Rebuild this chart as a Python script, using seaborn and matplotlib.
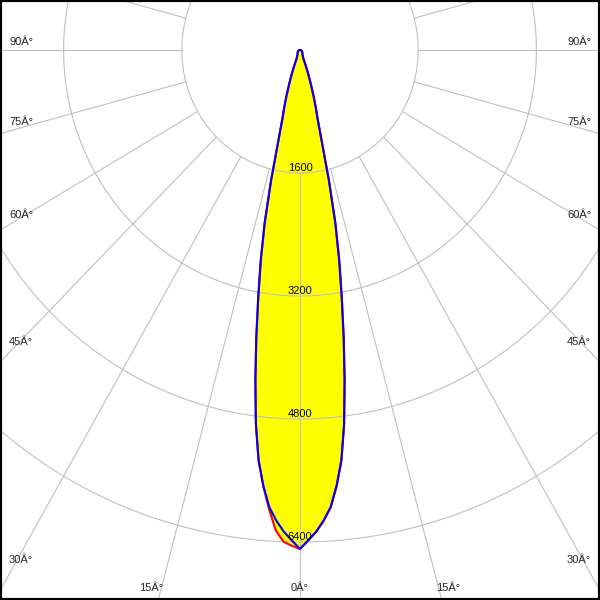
import numpy as np
import pandas as pd
import matplotlib
matplotlib.use("Agg")
import matplotlib.pyplot as plt
from matplotlib.patches import Rectangle
import seaborn as sns

# ---------------- data ----------------
angles_deg = [0, 1, 2, 3, 4, 5, 6, 7, 8, 9, 10, 11, 12, 13, 14, 15, 16, 17, 18, 19,
              20, 21, 22, 25, 30, 40, 50, 60, 70, 80, 90]
# C90-C270 plane (blue), symmetric
intensity_blue = [6490, 6380, 6270, 6130, 5960, 5690, 5365, 4900, 4340, 3780,
                  3250, 2780, 2300, 1740, 1190, 910, 770, 632, 495, 392,
                  300, 210, 130, 90, 70, 50, 40, 30, 20, 10, 0]
# C0 half plane (red, left side) and C180 half plane (red, right side)
intensity_red_left = [6490, 6450, 6400, 6260, 5990, 5700, 5365, 4900, 4340, 3780,
                      3250, 2780, 2300, 1740, 1190, 910, 770, 632, 495, 392,
                      300, 210, 130, 90, 70, 50, 40, 30, 20, 10, 0]
intensity_red_right = [6490, 6380, 6270, 6130, 5960, 5690, 5365, 4900, 4340, 3780,
                       3250, 2780, 2300, 1740, 1190, 910, 770, 632, 495, 392,
                       300, 210, 130, 90, 70, 50, 40, 30, 20, 10, 0]

ring_values = [1600, 3200, 4800, 6400]
ring_labels = ["1600", "3200", "4800", "6400"]
spoke_angles = list(range(-180, 181, 15))
side_labels = ["90Â°", "75Â°", "60Â°", "45Â°", "30Â°"]
bottom_labels = ["15Â°", "0Â°", "15Â°"]

# ---------------- layout ----------------
W = H = 600
CENTER_PX = (300.0, 50.0)
PX_PER_1600 = (118.2, 123.0)      # horizontal, vertical
R_MAX = 9000.0
side_label_y = [42, 122, 215, 342, 560]
side_label_x = (9, 591)
bottom_label_x = [151.5, 300, 448.5]
bottom_label_y = 588
GRID = "#c0c0c0"
FONT = ["Liberation Sans", "DejaVu Sans"]
FS = 8

sns.set_style("white")
plt.rcParams["font.family"] = FONT

fig = plt.figure(figsize=(6, 6), dpi=100, facecolor="white")
sx = PX_PER_1600[0] / 1600.0
sy = PX_PER_1600[1] / 1600.0
w_px = 2 * R_MAX * sx
h_px = 2 * R_MAX * sy
left_px = CENTER_PX[0] - w_px / 2
top_px = CENTER_PX[1] - h_px / 2
bottom_px = H - (top_px + h_px)
ax = fig.add_axes([left_px / W, bottom_px / H, w_px / W, h_px / H], projection="polar")
ax.set_aspect("auto")
ax.set_theta_zero_location("S")
ax.set_theta_direction(1)

# curves
a = np.deg2rad(np.array(angles_deg, dtype=float))
theta = np.concatenate([-a[::-1], a[1:]])
r_blue = np.concatenate([np.array(intensity_blue)[::-1], np.array(intensity_blue)[1:]])
r_red = np.concatenate([np.array(intensity_red_left)[::-1], np.array(intensity_red_right)[1:]])
df = pd.DataFrame({"theta": theta, "blue": r_blue, "red": r_red})

ax.fill(df["theta"], np.maximum(df["blue"], df["red"]), color="#ffff00", zorder=1, lw=0)

# grid
tt = np.linspace(0, 2 * np.pi, 721)
for rv in ring_values:
    ax.plot(tt, np.full_like(tt, rv), color=GRID, lw=0.8, zorder=2)
for sa in spoke_angles:
    ax.plot([np.deg2rad(sa)] * 2, [ring_values[0], R_MAX], color=GRID, lw=0.8, zorder=2)

sns.lineplot(data=df, x="theta", y="red", sort=False, estimator=None, color="#ff0000",
             lw=1.5, ax=ax, zorder=3)
sns.lineplot(data=df, x="theta", y="blue", sort=False, estimator=None, color="#0000ff",
             lw=1.5, ax=ax, zorder=4)

ax.set_ylim(0, R_MAX)
ax.set_xlabel("")
ax.set_ylabel("")
ax.set_axis_off()

# ring value labels
for rv, lab in zip(ring_values, ring_labels):
    ax.annotate(lab, xy=(0, rv), xytext=(0, 1.2), textcoords="offset points",
                ha="center", va="baseline", fontsize=FS, color="black", zorder=5)

# angle labels
for lab, y in zip(side_labels, side_label_y):
    fig.text(side_label_x[0] / W, 1 - y / H, lab, ha="left", va="center", fontsize=FS)
    fig.text(side_label_x[1] / W, 1 - y / H, lab, ha="right", va="center", fontsize=FS)
for lab, x in zip(bottom_labels, bottom_label_x):
    fig.text(x / W, 1 - bottom_label_y / H, lab, ha="center", va="center", fontsize=FS)

# frame
fig.patches.append(Rectangle((0, 0), 1, 1, transform=fig.transFigure, fill=False,
                             edgecolor="black", lw=3, zorder=10))

fig.savefig("out.png", dpi=100, facecolor="white")
